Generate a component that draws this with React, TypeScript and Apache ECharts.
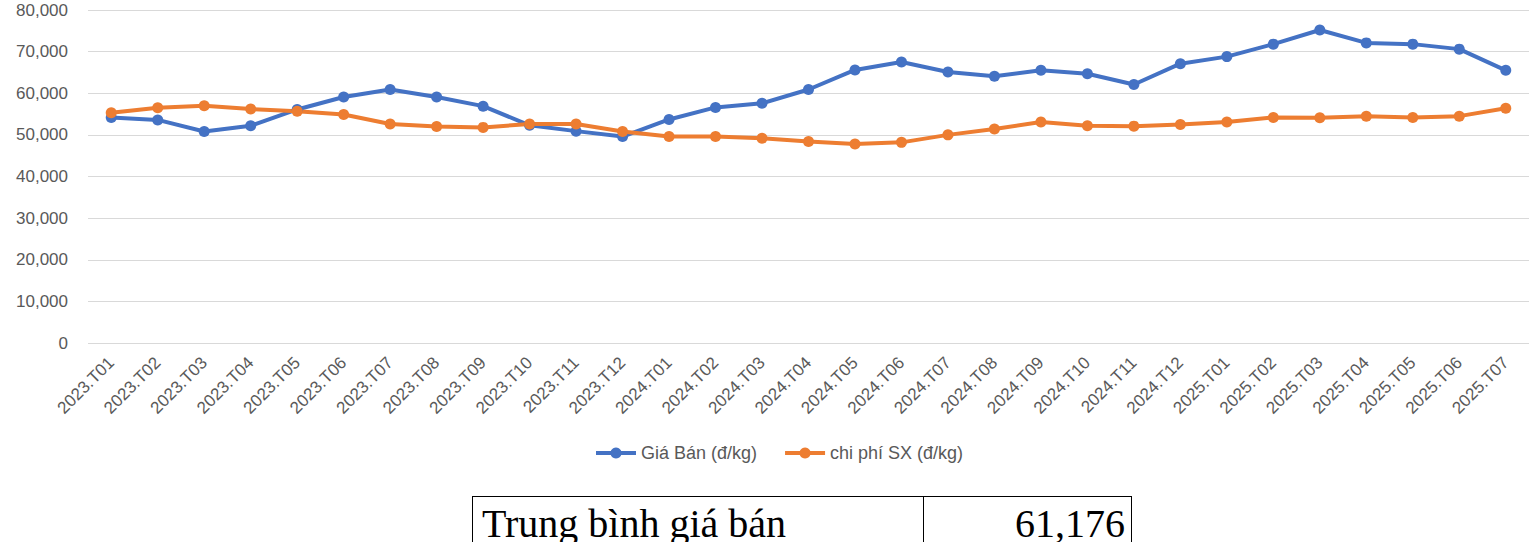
import { useEffect, useRef } from "react";
import * as echarts from "echarts";

const months = [
  "2023.T01", "2023.T02", "2023.T03", "2023.T04", "2023.T05", "2023.T06",
  "2023.T07", "2023.T08", "2023.T09", "2023.T10", "2023.T11", "2023.T12",
  "2024.T01", "2024.T02", "2024.T03", "2024.T04", "2024.T05", "2024.T06",
  "2024.T07", "2024.T08", "2024.T09", "2024.T10", "2024.T11", "2024.T12",
  "2025.T01", "2025.T02", "2025.T03", "2025.T04", "2025.T05", "2025.T06",
  "2025.T07",
];

const giaBan = [
  54200, 53600, 50800, 52200, 56100, 59100, 60900, 59100, 56900, 52300, 50900,
  49600, 53700, 56600, 57600, 60900, 65600, 67500, 65100, 64100, 65500, 64700,
  62100, 67100, 68800, 71800, 75200, 72100, 71800, 70600, 65500,
];

const chiPhiSX = [
  55300, 56500, 57000, 56200, 55700, 54900, 52600, 52000, 51800, 52600, 52600,
  50800, 49600, 49600, 49200, 48400, 47800, 48200, 50000, 51400, 53100, 52200,
  52100, 52500, 53100, 54200, 54100, 54500, 54200, 54500, 56400,
];

const seriesNames = ["Giá Bán (đ/kg)", "chi phí SX (đ/kg)"];
const seriesColors = ["#4472C4", "#ED7D31"];

const avgLabel = "Trung bình giá bán";
const avgValue = "61,176";

const FONT = "'Liberation Sans', Arial, sans-serif";

function buildOption(): echarts.EChartsOption {
  const lineSeries = (name: string, data: number[], color: string): echarts.SeriesOption => ({
    name,
    type: "line",
    data,
    symbol: "circle",
    symbolSize: 11,
    lineStyle: { width: 4, color },
    itemStyle: { color },
  });

  return {
    animation: false,
    textStyle: { fontFamily: FONT },
    grid: { left: 88, right: 7, top: 10, bottom: 137 },
    legend: {
      top: 439,
      left: 589,
      itemWidth: 40,
      itemHeight: 14,
      itemGap: 26,
      lineStyle: { width: 4 },
      textStyle: { fontSize: 18, color: "#595959", fontFamily: FONT },
      data: seriesNames,
    },
    xAxis: {
      type: "category",
      data: months,
      boundaryGap: true,
      axisLine: { show: false },
      axisTick: { show: false },
      axisLabel: {
        rotate: 45,
        interval: 0,
        fontSize: 17,
        color: "#595959",
        margin: 17,
        fontFamily: FONT,
      },
    },
    yAxis: {
      type: "value",
      min: 0,
      max: 80000,
      interval: 10000,
      axisLine: { show: false },
      axisTick: { show: false },
      splitLine: { lineStyle: { color: "#d9d9d9", width: 1 } },
      axisLabel: {
        fontSize: 17,
        color: "#595959",
        margin: 20,
        fontFamily: FONT,
        formatter: (v: number) => v.toLocaleString("en-US"),
      },
    },
    series: [
      lineSeries(seriesNames[0], giaBan, seriesColors[0]),
      lineSeries(seriesNames[1], chiPhiSX, seriesColors[1]),
    ],
  };
}

function PriceChart() {
  const ref = useRef<HTMLDivElement>(null);

  useEffect(() => {
    if (!ref.current) return;
    const chart = echarts.init(ref.current, undefined, { renderer: "svg" });
    chart.setOption(buildOption());
    return () => chart.dispose();
  }, []);

  return <div ref={ref} style={{ position: "absolute", left: 0, top: 0, width: 1536, height: 480 }} />;
}

export default function App() {
  const cell: React.CSSProperties = {
    position: "absolute",
    top: 0,
    height: 80,
    boxSizing: "border-box",
    fontFamily: "'Liberation Serif', 'Times New Roman', serif",
    fontSize: 40,
    lineHeight: "40px",
    paddingTop: 7,
    color: "#000",
  };

  return (
    <div style={{ position: "absolute", left: 0, top: 0, width: 1536, height: 542, overflow: "hidden", background: "#fff" }}>
      <PriceChart />
      <div
        style={{
          position: "absolute",
          left: 472,
          top: 496,
          width: 660,
          height: 80,
          boxSizing: "border-box",
          border: "1px solid #000",
        }}
      >
        <div style={{ ...cell, left: 0, width: 451, paddingLeft: 9, borderRight: "1px solid #000" }}>{avgLabel}</div>
        <div style={{ ...cell, left: 451, width: 207, paddingRight: 6, textAlign: "right" }}>{avgValue}</div>
      </div>
    </div>
  );
}
